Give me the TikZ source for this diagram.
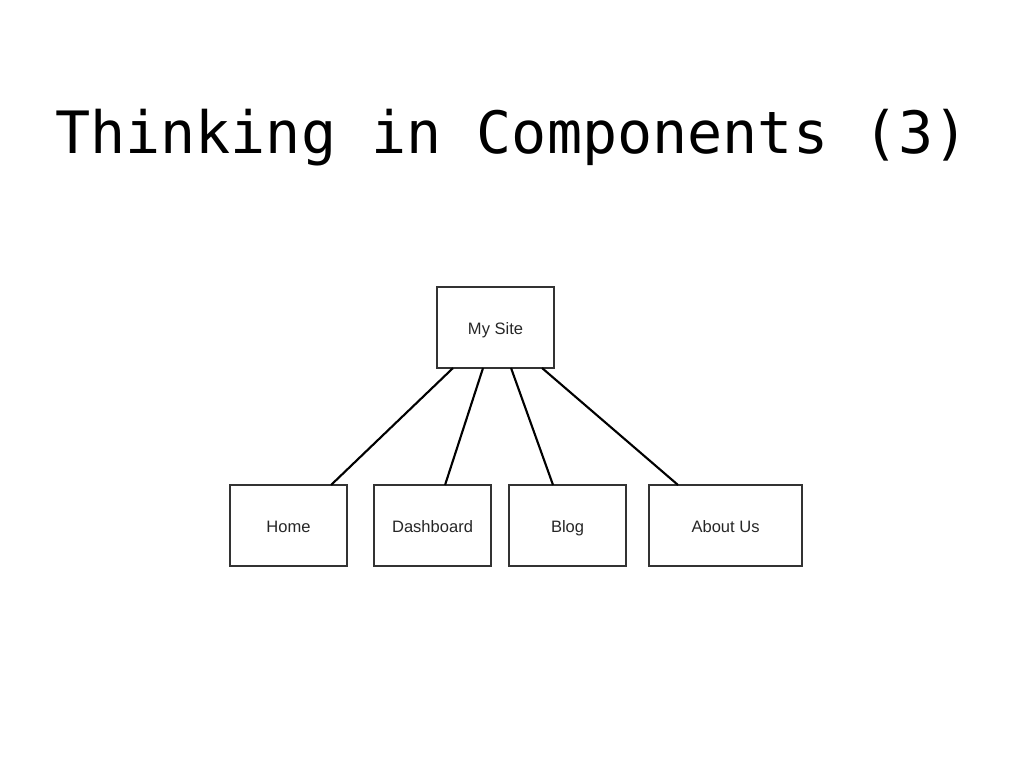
\documentclass[tikz,border=0pt]{standalone}
\usepackage{fontspec}
\setmainfont{Liberation Sans}
\newfontfamily\titlefont{DejaVu Sans Mono}
\begin{document}
\begin{tikzpicture}[x=0.01cm,y=-0.01cm,
  compbox/.style={draw=black!80, line width=0.35pt, minimum width=1.17cm, minimum height=0.81cm,
    inner sep=0pt, outer sep=0pt, font=\fontsize{4.7}{5}\selectfont, text=black!85,
    text height=3.9pt, text depth=0.2pt},
  link/.style={line width=0.6pt, black}]
\useasboundingbox (0,0) rectangle (1024,768);
\node[anchor=base, inner sep=0pt, font=\titlefont\fontsize{16.6}{20}\selectfont] (title) at (512,154) {Thinking in Components (3)};
\node[compbox, anchor=north west] (site) at (437,287) {My Site};
\node[compbox, anchor=north west] (home) at (230,485) {Home};
\node[compbox, anchor=north west] (dash) at (374,485) {Dashboard};
\node[compbox, anchor=north west] (blog) at (509,485) {Blog};
\node[compbox, anchor=north west, minimum width=1.53cm] (about) at (649,485) {About Us};
\draw[link] ([xshift=0.16cm]site.south west) -- ([xshift=1.01cm]home.north west);
\draw[link] ([xshift=0.46cm]site.south west) -- ([xshift=0.71cm]dash.north west);
\draw[link] ([xshift=0.74cm]site.south west) -- ([xshift=0.44cm]blog.north west);
\draw[link] ([xshift=1.05cm]site.south west) -- ([xshift=0.29cm]about.north west);
\end{tikzpicture}
\end{document}
